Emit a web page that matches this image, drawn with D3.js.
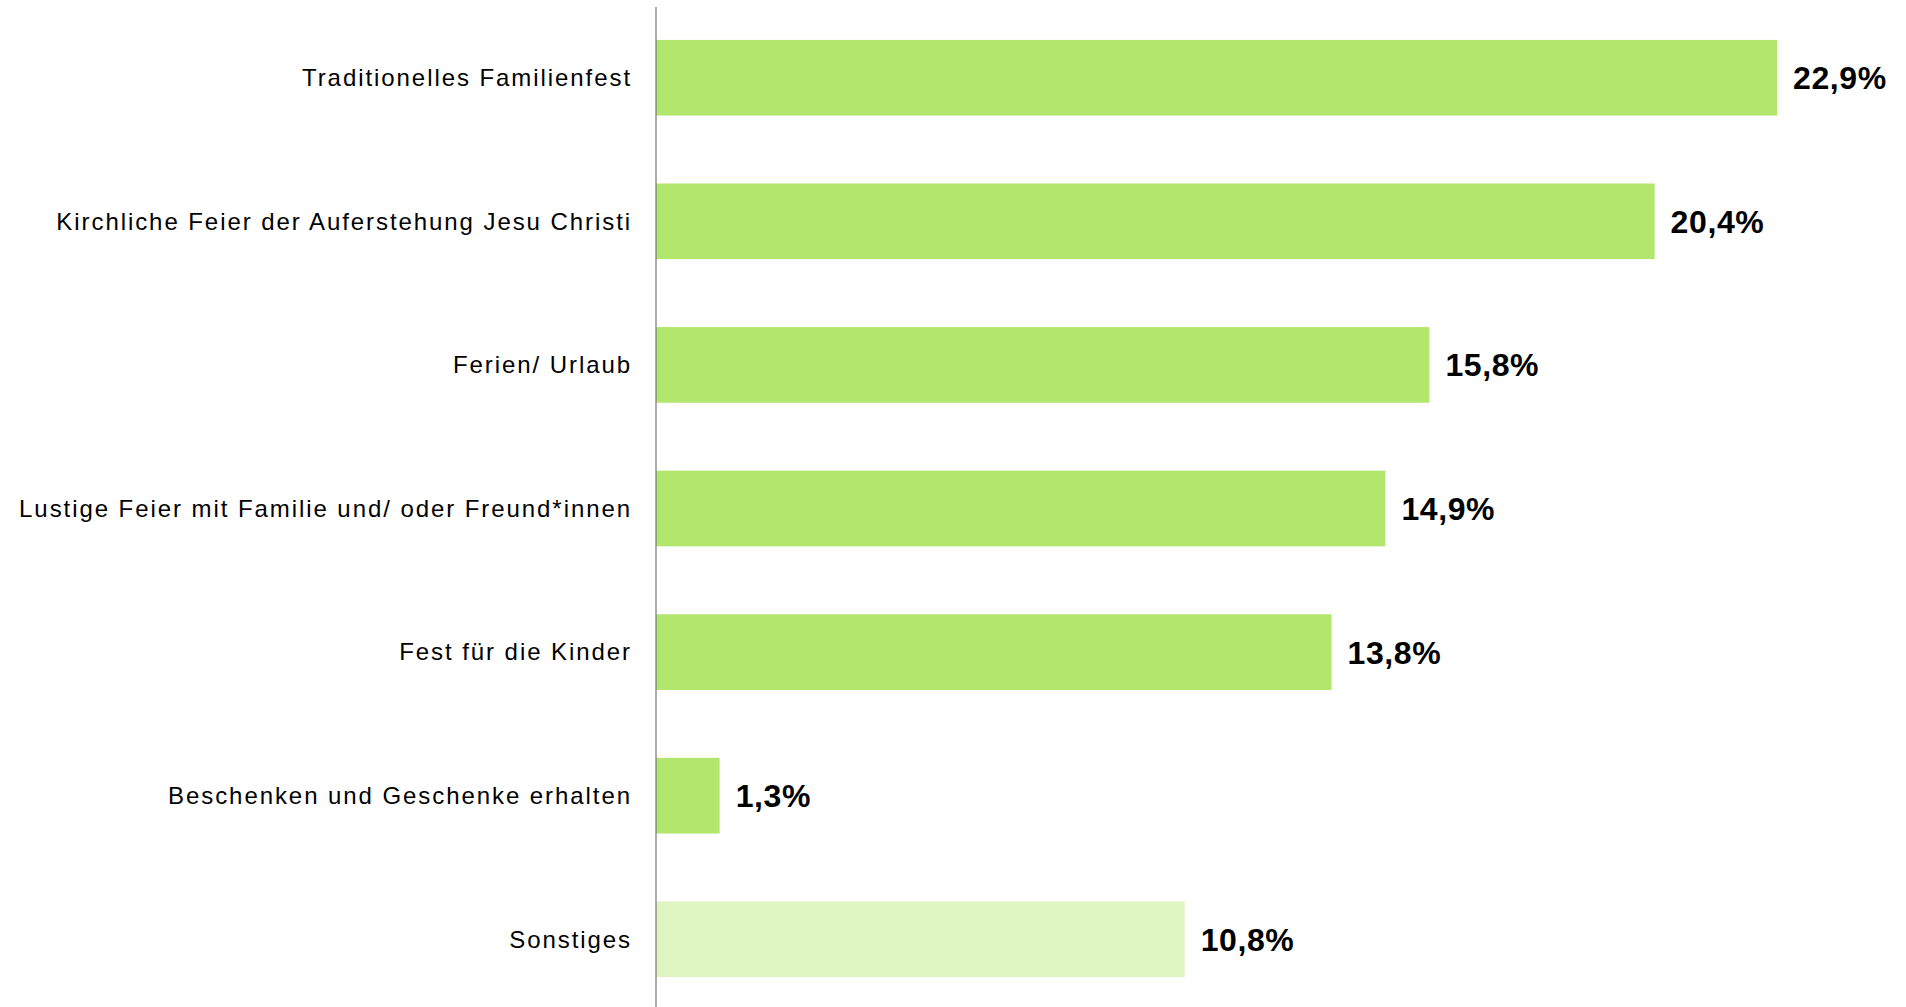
<!DOCTYPE html>
<html><head><meta charset="utf-8">
<script src="https://cdn.jsdelivr.net/npm/d3@7"></script>
<style>html,body{margin:0;padding:0;background:#fff;overflow:hidden}</style>
</head><body><svg id="c" width="1906" height="1007"></svg>
<script>
const categories = ["Traditionelles Familienfest","Kirchliche Feier der Auferstehung Jesu Christi","Ferien/ Urlaub","Lustige Feier mit Familie und/ oder Freund*innen","Fest für die Kinder","Beschenken und Geschenke erhalten","Sonstiges"];
const values = [22.9,20.4,15.8,14.9,13.8,1.3,10.8];
const valueLabels = ["22,9%","20,4%","15,8%","14,9%","13,8%","1,3%","10,8%"];
const colors = ["#b3e66c","#b3e66c","#b3e66c","#b3e66c","#b3e66c","#b3e66c","#dff5c1"];

const svg = d3.select("#c");
const x = d3.scaleLinear().domain([0,22.9]).range([656,1777]);
const y = d3.scaleBand().domain(categories).range([4,1013]).paddingInner(0.473).paddingOuter(0.25);

svg.selectAll("rect.bar").data(values).join("rect")
  .attr("class","bar")
  .attr("x",x(0)).attr("y",(d,i)=>y(categories[i]))
  .attr("width",d=>x(d)-x(0)).attr("height",y.bandwidth())
  .attr("fill",(d,i)=>colors[i]);

svg.append("line").attr("x1",656).attr("x2",656).attr("y1",7).attr("y2",1007)
  .attr("stroke","#7f7f7f").attr("stroke-width",1.3);

svg.selectAll("text.cat").data(categories).join("text")
  .attr("class","cat")
  .attr("x",632).attr("y",d=>y(d)+y.bandwidth()/2)
  .attr("dy","0.35em").attr("text-anchor","end")
  .attr("font-family","Liberation Sans, Arial, sans-serif").attr("font-size",24)
  .attr("letter-spacing","1.93px")
  .attr("fill","#000").text(d=>d);

svg.selectAll("text.val").data(values).join("text")
  .attr("class","val")
  .attr("x",d=>x(d)+16).attr("y",(d,i)=>y(categories[i])+y.bandwidth()/2)
  .attr("dy","0.36em")
  .attr("font-family","Liberation Sans, Arial, sans-serif").attr("font-size",32).attr("font-weight","bold")
  .attr("letter-spacing","0.6px")
  .attr("fill","#000").text((d,i)=>valueLabels[i]);
</script></body></html>
